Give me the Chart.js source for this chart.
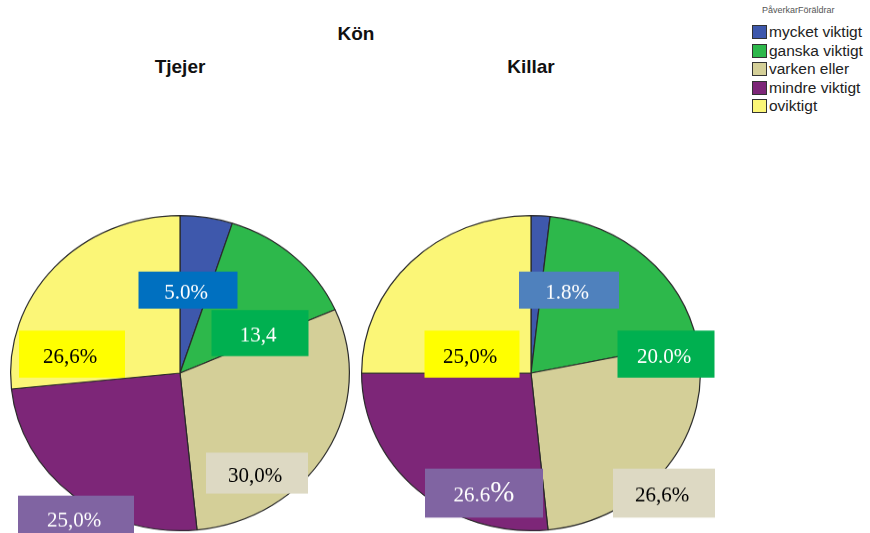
<!DOCTYPE html>
<html>
<head>
<meta charset="utf-8">
<script src="https://cdn.jsdelivr.net/npm/chart.js@4/dist/chart.umd.min.js"></script>
<style>
  html, body { margin: 0; padding: 0; width: 870px; height: 533px; overflow: hidden; background: #fff;
    font-family: "Liberation Sans", Arial, sans-serif; }
  .title { position: absolute; font-weight: bold; font-size: 19px; line-height: 19px; color: #111;
    transform: translateX(-50%); white-space: nowrap; }
  .pie { position: absolute; transform: scaleY(0.93); transform-origin: 0 0; }
  #legend { position: absolute; left: 752px; top: 5px; }
  #legend .ltitle { font-size: 9px; color: #555; margin-left: 10px; margin-bottom: 8px; }
  #legend .item { height: 18.5px; display: flex; align-items: center; font-size: 15.5px; color: #222; }
  #legend .sw { width: 13px; height: 12px; border: 1.5px solid #333; margin-right: 2px; }
</style>
</head>
<body>
<div class="title" style="left:356px; top:24px;">Kön</div>
<div class="title" style="left:180px; top:57px;">Tjejer</div>
<div class="title" style="left:531px; top:57px;">Killar</div>
<div id="legend"></div>
<div class="pie" style="left:0px; top:215px; width:360px; height:400px;"><canvas id="pieTjejer"></canvas></div>
<div class="pie" style="left:331px; top:215px; width:400px; height:400px;"><canvas id="pieKillar"></canvas></div>

<script>
// Data
const categories = ['mycket viktigt', 'ganska viktigt', 'varken eller', 'mindre viktigt', 'oviktigt'];
const tjejer = [5.0, 13.4, 30.0, 25.0, 26.6];
const killar = [1.8, 20.0, 26.6, 26.6, 25.0];
const tjejerLabels = ['5.0%', '13,4', '30,0%', '25,0%', '26,6%'];
const killarLabels = ['1.8%', '20.0%', '26,6%', '26.6%', '25,0%'];

const legendTitle = 'PåverkarFöräldrar';
const sliceColors = ['#3e58ac', '#2db84b', '#d4cf98', '#7d2678', '#fbf677'];

const SY = 0.93; // pie is a little squashed vertically

// label boxes, offsets from pie centre in screen pixels
const tjejerBoxes = [
  { dx: 8, dy: -83, w: 99, h: 37, bg: '#0070c0', fg: '#fff' },
  { dx: 80, dy: -40, w: 97, h: 46, bg: '#00b050', fg: '#fff' },
  { dx: 77, dy: 100, w: 102, h: 41, bg: '#ddd9c3', fg: '#000' },
  { dx: -104, dy: 145, w: 116, h: 45, bg: '#8064a2', fg: '#fff' },
  { dx: -108, dy: -19, w: 106, h: 47, bg: '#ffff00', fg: '#000' }
];
const killarBoxes = [
  { dx: 38, dy: -83, w: 100, h: 37, bg: '#4f81bd', fg: '#fff' },
  { dx: 135, dy: -19, w: 97, h: 47, bg: '#00b050', fg: '#fff' },
  { dx: 133, dy: 120, w: 102, h: 49, bg: '#ddd9c3', fg: '#000' },
  { dx: -47, dy: 120, w: 118, h: 49, bg: '#8064a2', fg: '#fff', bigPct: true },
  { dx: -59, dy: -19, w: 95, h: 47, bg: '#ffff00', fg: '#000' }
];

const serif = '"Liberation Serif", "Times New Roman", serif';

// legend
const legendEl = document.getElementById('legend');
legendEl.innerHTML = '<div class="ltitle">' + legendTitle + '</div>' +
  categories.map((c, i) =>
    '<div class="item"><span class="sw" style="background:' + sliceColors[i] + '"></span>' + c + '</div>'
  ).join('');

// draws the coloured label boxes on top of the slices
function boxLabels(labels, boxes) {
  return {
    id: 'boxLabels',
    afterDatasetsDraw(chart) {
      const arc = chart.getDatasetMeta(0).data[0];
      const ctx = chart.ctx;
      boxes.forEach((b, i) => {
        ctx.save();
        ctx.translate(arc.x + b.dx, arc.y + b.dy / SY);
        ctx.scale(1, 1 / SY);
        ctx.fillStyle = b.bg;
        ctx.fillRect(-b.w / 2, -b.h / 2, b.w, b.h);
        ctx.fillStyle = b.fg;
        ctx.textBaseline = 'middle';
        const txt = labels[i];
        if (b.bigPct) {
          const num = txt.slice(0, -1);
          ctx.font = '21px ' + serif;
          const w1 = ctx.measureText(num).width;
          ctx.font = '29px ' + serif;
          const w2 = ctx.measureText('%').width;
          const x0 = -(w1 + w2) / 2;
          ctx.textAlign = 'left';
          ctx.font = '21px ' + serif;
          ctx.fillText(num, x0, 3);
          ctx.font = '29px ' + serif;
          ctx.fillText('%', x0 + w1, 1);
        } else {
          ctx.font = '21px ' + serif;
          ctx.textAlign = 'center';
          ctx.fillText(txt, -2, 3);
        }
        ctx.restore();
      });
    }
  };
}

function makePie(id, values, labels, boxes) {
  new Chart(document.getElementById(id), {
    type: 'pie',
    data: {
      labels: categories,
      datasets: [{
        data: values,
        backgroundColor: sliceColors,
        borderColor: '#2a2a2a',
        borderWidth: 1.2,
        hoverOffset: 0
      }]
    },
    options: {
      responsive: true,
      maintainAspectRatio: false,
      animation: false,
      events: [],
      layout: { padding: { bottom: 60 } },
      plugins: {
        legend: { display: false },
        tooltip: { enabled: false }
      }
    },
    plugins: [boxLabels(labels, boxes)]
  });
}

makePie('pieTjejer', tjejer, tjejerLabels, tjejerBoxes);
makePie('pieKillar', killar, killarLabels, killarBoxes);
</script>
</body>
</html>
